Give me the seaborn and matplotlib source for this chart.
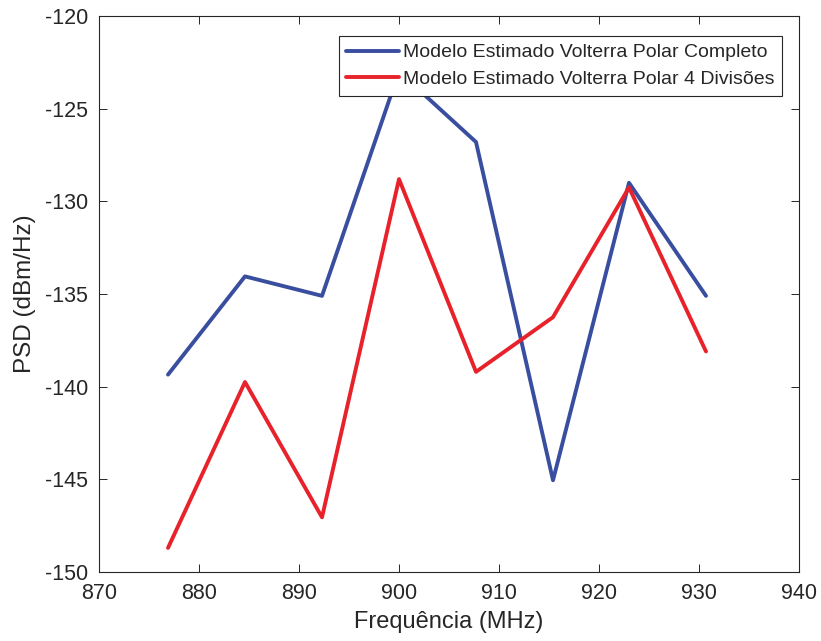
import matplotlib
matplotlib.use("Agg")
import matplotlib.pyplot as plt
import seaborn as sns
import pandas as pd

freq = [876.9, 884.6, 892.3, 900.0, 907.7, 915.4, 923.0, 930.7]
psd_completo = [-139.35, -134.05, -135.1, -123.0, -126.8, -145.05, -129.0, -135.1]
psd_4div = [-148.7, -139.75, -147.05, -128.8, -139.2, -136.25, -129.25, -138.1]
label_completo = "Modelo Estimado Volterra Polar Completo"
label_4div = "Modelo Estimado Volterra Polar 4 Divisões"
xticks = [870, 880, 890, 900, 910, 920, 930, 940]
yticks = [-150, -145, -140, -135, -130, -125, -120]

df = pd.DataFrame({
    "freq": freq + freq,
    "psd": psd_completo + psd_4div,
    "modelo": [label_completo] * len(freq) + [label_4div] * len(freq),
})

sns.set_theme(style="white")
plt.rcParams["font.family"] = ["Liberation Sans", "DejaVu Sans"]

fig = plt.figure(figsize=(8.21, 6.41), dpi=100)
ax = fig.add_axes([99 / 821, 1 - 572 / 641, 700 / 821, 556 / 641])

sns.lineplot(data=df, x="freq", y="psd", hue="modelo",
             palette={label_completo: "#3a4ea0", label_4div: "#e8222b"},
             linewidth=2.8, ax=ax, sort=False)

ax.set_xlim(870, 940)
ax.set_ylim(-150, -120)
ax.set_xticks(xticks)
ax.set_yticks(yticks)
ax.set_xticklabels([str(t) for t in xticks])
ax.set_yticklabels([str(t) for t in yticks])
ax.tick_params(direction="in", length=5.5, width=0.7, colors="#262626",
               labelsize=15.5, top=True, right=True, bottom=True, left=True, pad=8)
for s in ax.spines.values():
    s.set_color("#262626")
    s.set_linewidth(0.8)
ax.set_xlabel("Frequência (MHz)", fontsize=17, color="#262626", labelpad=5)
ax.set_ylabel("PSD (dBm/Hz)", fontsize=17.5, color="#262626", labelpad=6)

leg = ax.legend(loc="upper right", bbox_to_anchor=(0.9757, 0.964), fontsize=14,
                frameon=True, fancybox=False, edgecolor="#262626",
                handlelength=2.7, handletextpad=0.2, borderpad=0.4,
                labelspacing=0.45, borderaxespad=0)
leg.get_frame().set_linewidth(0.8)
leg.get_frame().set_alpha(1)
for line in leg.get_lines():
    line.set_linewidth(2.8)

fig.savefig("out.png", dpi=100)
